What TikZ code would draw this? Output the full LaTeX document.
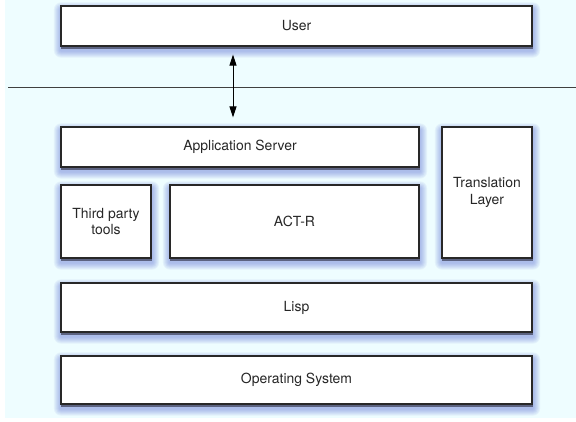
\documentclass[tikz,border=0pt]{standalone}
\usepackage{fontspec}
\setmainfont{TeX Gyre Heros}
\usepackage{xcolor}
\usepackage{tikz}
\usetikzlibrary{arrows.meta, backgrounds}

\definecolor{bgcyan}{RGB}{238,253,255}
\definecolor{shadowblue}{RGB}{80,100,210}
\definecolor{shadowdark}{RGB}{40,40,60}
\definecolor{edgegray}{RGB}{40,40,40}

\pgfdeclarelayer{shade}
\pgfsetlayers{background,shade,main}

\begin{document}
\begin{tikzpicture}[
    x=1bp, y=-1bp,
    box/.style={draw=edgegray, fill=white, line width=1.2bp, inner sep=0pt, align=center,
        font=\fontsize{14}{17}\selectfont, text=black!85},
    halo/.style={fill=shadowblue, opacity=.07},
    core/.style={fill=shadowdark, opacity=.6},
    arrow/.style={{Triangle[length=11bp,width=7bp]}-{Triangle[length=11bp,width=7bp]}, line width=1bp, draw=black},
    sepline/.style={line width=1bp, draw=black!75},
]

% Hintergrund
\useasboundingbox (0,0) rectangle (576,421);
\begin{pgfonlayer}{background}
\fill[bgcyan] (5,0) rectangle (576,418);
\end{pgfonlayer}

% Benutzerebene
\node[box, minimum width=471bp, minimum height=40bp] (user) at (296.5,26) {User};

% Trennlinie
\coordinate (sepL) at (8,87);
\coordinate (sepR) at (576,87);
\draw[sepline] (sepL) -- (sepR);

% Serverseite
\node[box, minimum width=358bp, minimum height=40bp] (appsrv) at (240,147) {Application Server};
\node[box, minimum width=90bp, minimum height=131bp] (transl) at (487,192.5) {Translation\\Layer};
\node[box, minimum width=90bp, minimum height=73bp] (third) at (106,221.5) {Third party\\tools};
\node[box, minimum width=249bp, minimum height=73bp] (actr) at (294.5,221.5) {ACT-R};
\node[box, minimum width=471bp, minimum height=49bp] (lisp) at (296.5,307.5) {Lisp};
\node[box, minimum width=471bp, minimum height=48bp] (os) at (296.5,380) {Operating System};

% Verbindung
\coordinate (arrx) at (233,0);
\draw[arrow, shorten <=8bp, shorten >=9bp] (user.south -| arrx) -- (appsrv.north -| arrx);

% Schatten
\begin{pgfonlayer}{shade}
\foreach \n in {user,appsrv,transl,third,actr,lisp,os}{
    \foreach \r in {1,2,...,7}{
        \fill[halo, rounded corners=\r bp]
            ([shift={(-\r+0.5,-\r+4)}]\n.north west) rectangle ([shift={(\r+0.5,\r+4)}]\n.south east);
    }
    \fill[core] ([shift={(0.5,0)}]\n.north west) rectangle ([shift={(0.5,2.5)}]\n.south east);
}
\end{pgfonlayer}

\end{tikzpicture}
\end{document}
